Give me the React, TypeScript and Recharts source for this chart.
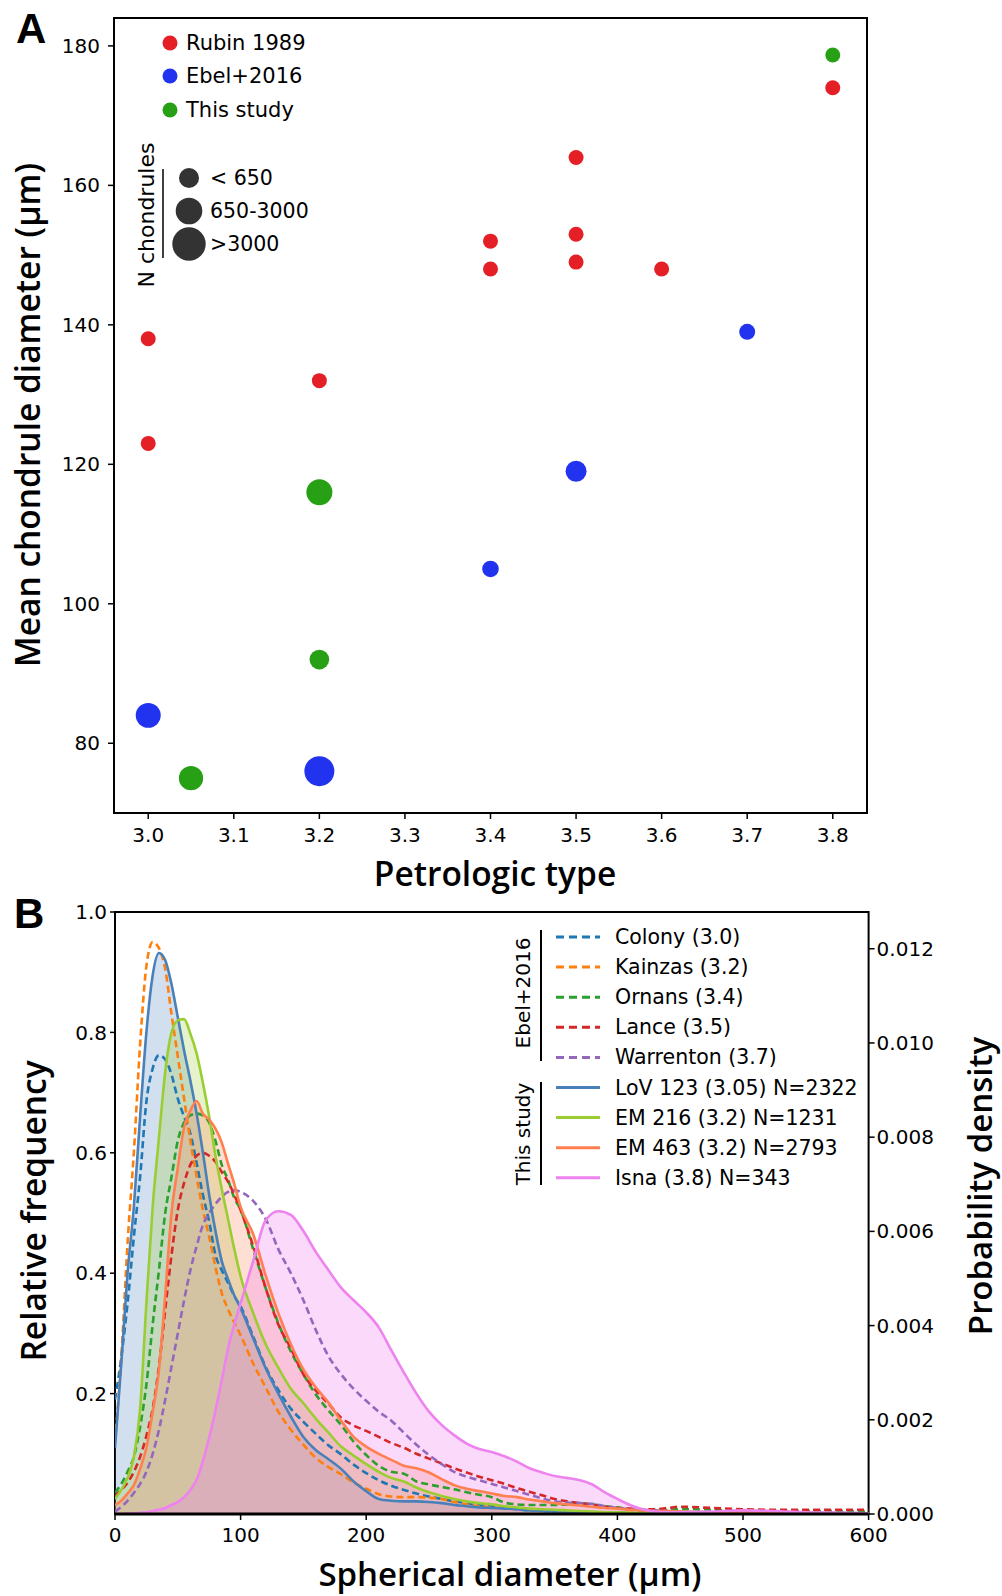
import React from 'react'
import {
  ScatterChart, Scatter, XAxis, YAxis, ZAxis, ReferenceArea,
  ComposedChart, Area, Line,
} from 'recharts'

// ---- Panel A: mean chondrule diameter vs petrologic type ----
const rubinType = [3.0, 3.0, 3.2, 3.4, 3.4, 3.5, 3.5, 3.5, 3.6, 3.8]
const rubinDiam = [138, 123, 132, 152, 148, 164, 153, 149, 148, 174]
const rubinN = [350, 350, 350, 350, 350, 350, 350, 350, 350, 350]

const ebelType = [3.0, 3.2, 3.4, 3.5, 3.7]
const ebelDiam = [84, 76, 105, 119, 139]
const ebelN = [2510, 4000, 620, 1520, 520]

const studyType = [3.05, 3.2, 3.2, 3.8]
const studyDiam = [75, 116, 92, 178.7]
const studyN = [2322, 2793, 1231, 343]

const typeTicks = [3.0, 3.1, 3.2, 3.3, 3.4, 3.5, 3.6, 3.7, 3.8]
const diamTicks = [80, 100, 120, 140, 160, 180]

// ---- Panel B: size distributions ----
const diam = [
  0, 5, 10, 15, 20, 25, 30, 35, 40, 45, 50, 55, 60, 65, 70, 75, 80, 85, 90, 95, 100,
  110, 120, 130, 140, 150, 160, 170, 180, 190, 200, 210, 220, 230, 240, 250, 260, 270, 280, 290, 300,
  310, 320, 330, 340, 350, 360, 370, 380, 390, 400, 410, 420, 430, 440, 450,
  475, 500, 525, 550, 575, 600,
]
const colony = [
  0.19, 0.26, 0.35, 0.46, 0.56, 0.685, 0.74, 0.762, 0.755, 0.73, 0.69, 0.66, 0.632, 0.583, 0.53, 0.485, 0.43, 0.405, 0.384, 0.362, 0.345,
  0.295, 0.244, 0.206, 0.175, 0.153, 0.133, 0.114, 0.099, 0.082, 0.068, 0.056, 0.047, 0.04, 0.034, 0.029, 0.025, 0.021, 0.018, 0.015, 0.013,
  0.01, 0.008, 0.006, 0.005, 0.004, 0.003, 0.003, 0.002, 0.002, 0.002, 0.001, 0.001, 0.001, 0.001, 0.001,
  0.001, 0.001, 0, 0, 0, 0,
]
const kainzas = [
  0.12, 0.26, 0.45, 0.6, 0.78, 0.91, 0.95, 0.94, 0.905, 0.83, 0.76, 0.69, 0.62, 0.56, 0.505, 0.46, 0.41, 0.367, 0.34, 0.318, 0.297,
  0.25, 0.21, 0.17, 0.14, 0.115, 0.093, 0.078, 0.066, 0.052, 0.042, 0.033, 0.029, 0.028, 0.028, 0.027, 0.025, 0.02, 0.016, 0.013, 0.011,
  0.01, 0.009, 0.008, 0.007, 0.006, 0.005, 0.004, 0.003, 0.003, 0.002, 0.002, 0.002, 0.002, 0.001, 0.001,
  0.001, 0.001, 0.001, 0, 0, 0,
]
const ornans = [
  0.035, 0.05, 0.07, 0.095, 0.145, 0.215, 0.315, 0.405, 0.5, 0.56, 0.62, 0.65, 0.662, 0.665, 0.662, 0.65, 0.62, 0.58, 0.555, 0.525, 0.505,
  0.44, 0.375, 0.317, 0.27, 0.232, 0.198, 0.172, 0.148, 0.12, 0.098, 0.08, 0.07, 0.067, 0.054, 0.049, 0.045, 0.041, 0.036, 0.032, 0.028,
  0.019, 0.016, 0.015, 0.015, 0.015, 0.016, 0.018, 0.016, 0.013, 0.011, 0.008, 0.006, 0.006, 0.007, 0.008,
  0.007, 0.005, 0.005, 0.005, 0.005, 0.004,
]
const lance = [
  0.03, 0.04, 0.052, 0.07, 0.095, 0.13, 0.175, 0.245, 0.34, 0.43, 0.505, 0.55, 0.58, 0.595, 0.6, 0.595, 0.585, 0.568, 0.552, 0.53, 0.505,
  0.445, 0.375, 0.315, 0.275, 0.232, 0.205, 0.183, 0.16, 0.147, 0.138, 0.128, 0.118, 0.11, 0.1, 0.092, 0.084, 0.076, 0.069, 0.062, 0.056,
  0.05, 0.043, 0.037, 0.031, 0.025, 0.021, 0.018, 0.015, 0.012, 0.01, 0.009, 0.008, 0.008, 0.01, 0.012,
  0.01, 0.008, 0.007, 0.007, 0.007, 0.007,
]
const warrenton = [
  0.004, 0.012, 0.022, 0.035, 0.05, 0.07, 0.1, 0.14, 0.19, 0.245, 0.3, 0.355, 0.405, 0.445, 0.48, 0.5, 0.515, 0.527, 0.535, 0.538, 0.535,
  0.52, 0.49, 0.44, 0.4, 0.355, 0.305, 0.262, 0.232, 0.208, 0.188, 0.17, 0.155, 0.135, 0.115, 0.098, 0.083, 0.07, 0.062, 0.056, 0.05,
  0.044, 0.038, 0.032, 0.026, 0.021, 0.019, 0.018, 0.017, 0.013, 0.01, 0.008, 0.007, 0.006, 0.005, 0.004,
  0.003, 0.003, 0.002, 0.002, 0.002, 0.001,
]
const lov123 = [
  0.11, 0.25, 0.4, 0.51, 0.66, 0.8, 0.895, 0.932, 0.92, 0.88, 0.825, 0.77, 0.72, 0.665, 0.6, 0.53, 0.47, 0.42, 0.39, 0.363, 0.342,
  0.292, 0.242, 0.2, 0.162, 0.128, 0.106, 0.091, 0.075, 0.054, 0.038, 0.025, 0.022, 0.021, 0.021, 0.02, 0.018, 0.015, 0.013, 0.011, 0.01,
  0.009, 0.008, 0.006, 0.005, 0.004, 0.003, 0.003, 0.002, 0.002, 0.002, 0.001, 0.001, 0.001, 0.001, 0.001,
  0.001, 0.001, 0, 0, 0, 0,
]
const em216 = [
  0.025, 0.04, 0.06, 0.095, 0.175, 0.35, 0.51, 0.625, 0.735, 0.8, 0.82, 0.822, 0.798, 0.765, 0.716, 0.66, 0.595, 0.54, 0.49, 0.44, 0.395,
  0.334, 0.282, 0.243, 0.208, 0.184, 0.158, 0.135, 0.112, 0.097, 0.083, 0.07, 0.06, 0.054, 0.044, 0.036, 0.03, 0.025, 0.021, 0.018, 0.016,
  0.013, 0.011, 0.009, 0.008, 0.007, 0.006, 0.005, 0.004, 0.003, 0.003, 0.002, 0.002, 0.001, 0.001, 0.001,
  0.001, 0.001, 0, 0, 0, 0,
]
const em463 = [
  0.015, 0.022, 0.034, 0.048, 0.075, 0.11, 0.17, 0.24, 0.365, 0.5, 0.575, 0.642, 0.67, 0.686, 0.665, 0.655, 0.64, 0.617, 0.582, 0.548, 0.51,
  0.465, 0.396, 0.334, 0.282, 0.24, 0.21, 0.185, 0.155, 0.128, 0.112, 0.1, 0.09, 0.08, 0.076, 0.069, 0.058, 0.048, 0.042, 0.038, 0.034,
  0.03, 0.028, 0.024, 0.021, 0.018, 0.016, 0.014, 0.012, 0.01, 0.009, 0.007, 0.006, 0.005, 0.005, 0.004,
  0.003, 0.003, 0.002, 0.002, 0.001, 0.001,
]
const isna = [
  0, 0, 0.001, 0.001, 0.002, 0.003, 0.005, 0.007, 0.01, 0.015, 0.02, 0.028, 0.04, 0.057, 0.088, 0.127, 0.172, 0.222, 0.275, 0.315, 0.35,
  0.42, 0.488, 0.503, 0.497, 0.47, 0.435, 0.405, 0.376, 0.355, 0.335, 0.31, 0.272, 0.235, 0.2, 0.17, 0.148, 0.131, 0.117, 0.108, 0.103,
  0.096, 0.087, 0.076, 0.069, 0.063, 0.06, 0.056, 0.049, 0.036, 0.025, 0.015, 0.008, 0.004, 0.003, 0.003,
  0.004, 0.006, 0.005, 0.003, 0.002, 0.001,
]

const diamAxisTicks = [0, 100, 200, 300, 400, 500, 600]
const freqTicks = [0.2, 0.4, 0.6, 0.8, 1.0]
const densityTicks = [0, 0.002, 0.004, 0.006, 0.008, 0.01, 0.012]

const ebelSeries = [
  { key: 'colony', name: 'Colony (3.0)', color: '#1f77b4' },
  { key: 'kainzas', name: 'Kainzas (3.2)', color: '#ff7f0e' },
  { key: 'ornans', name: 'Ornans (3.4)', color: '#2ca02c' },
  { key: 'lance', name: 'Lance (3.5)', color: '#d62728' },
  { key: 'warrenton', name: 'Warrenton (3.7)', color: '#9467bd' },
]
const studySeries = [
  { key: 'lov123', name: 'LoV 123 (3.05) N=2322', color: '#4a80ba' },
  { key: 'em216', name: 'EM 216 (3.2) N=1231', color: '#9acd32' },
  { key: 'em463', name: 'EM 463 (3.2) N=2793', color: '#ff7f50' },
  { key: 'isna', name: 'Isna (3.8) N=343', color: '#ee82ee' },
]

const RED = '#e41f26'
const BLUE = '#2233f0'
const GREEN = '#28a016'
const FONT = "'DejaVu Sans', sans-serif"
const TITLE_FONT = "'Open Sans', 'DejaVu Sans', sans-serif"
const TITLE_SIZE = 33.5

const rubinPts = rubinType.map((t, i) => ({ type: t, diam: rubinDiam[i], n: rubinN[i] }))
const ebelPts = ebelType.map((t, i) => ({ type: t, diam: ebelDiam[i], n: ebelN[i] }))
const studyPts = studyType.map((t, i) => ({ type: t, diam: studyDiam[i], n: studyN[i] }))

const rows = diam.map((d, i) => ({
  d,
  colony: colony[i],
  kainzas: kainzas[i],
  ornans: ornans[i],
  lance: lance[i],
  warrenton: warrenton[i],
  lov123: lov123[i],
  em216: em216[i],
  em463: em463[i],
  isna: isna[i],
}))

const tickStyle = { fontSize: 20, fill: '#000', fontFamily: FONT }
const tickLine = { stroke: '#000', strokeWidth: 1.5 }

function Overlay() {
  const legendRowsB = [...ebelSeries, ...studySeries]
  return (
    <svg width={1002} height={1596} style={{ position: 'absolute', left: 0, top: 0, pointerEvents: 'none' }}>
      {/* panel letters */}
      <text x={16} y={43} fontSize={42} fontWeight="bold" fontFamily="'Liberation Sans', Arial, sans-serif">A</text>
      <text x={14} y={928} fontSize={42} fontWeight="bold" fontFamily="'Liberation Sans', Arial, sans-serif">B</text>

      {/* panel A legend */}
      {[
        { label: 'Rubin 1989', color: RED, y: 43 },
        { label: 'Ebel+2016', color: BLUE, y: 76 },
        { label: 'This study', color: GREEN, y: 110 },
      ].map((r) => (
        <g key={r.label}>
          <circle cx={170} cy={r.y} r={7.5} fill={r.color} />
          <text x={186} y={r.y} dominantBaseline="central" fontSize={21} fontFamily={FONT}>{r.label}</text>
        </g>
      ))}
      <text x={146} y={215} transform="rotate(-90 146 215)" textAnchor="middle" dominantBaseline="central" fontSize={22} fontFamily={FONT}>N chondrules</text>
      <line x1={163} x2={163} y1={169} y2={258} stroke="#000" strokeWidth={1.5} />
      {[
        { label: '< 650', r: 10, y: 178 },
        { label: '650-3000', r: 13.3, y: 211 },
        { label: '>3000', r: 16.7, y: 244 },
      ].map((s) => (
        <g key={s.label}>
          <circle cx={189} cy={s.y} r={s.r} fill="#333" />
          <text x={210} y={s.y} dominantBaseline="central" fontSize={20.5} fontFamily={FONT}>{s.label}</text>
        </g>
      ))}

      {/* panel A titles */}
      <text x={27} y={415} transform="rotate(-90 27 415)" textAnchor="middle" dominantBaseline="central" fontSize={TITLE_SIZE} fontWeight={600} fontFamily={TITLE_FONT}>Mean chondrule diameter (μm)</text>
      <text x={495} y={873} textAnchor="middle" dominantBaseline="central" fontSize={TITLE_SIZE} fontWeight={600} fontFamily={TITLE_FONT}>Petrologic type</text>

      {/* panel B legend */}
      {legendRowsB.map((s, i) => {
        const y = 937 + i * 30.1
        const dashed = i < ebelSeries.length
        return (
          <g key={s.key}>
            <line x1={556} x2={600} y1={y} y2={y} stroke={s.color} strokeWidth={3} strokeDasharray={dashed ? '8 5' : undefined} />
            <text x={615} y={y} dominantBaseline="central" fontSize={20.5} fontFamily={FONT}>{s.name}</text>
          </g>
        )
      })}
      <text x={523} y={993} transform="rotate(-90 523 993)" textAnchor="middle" dominantBaseline="central" fontSize={20} fontFamily={FONT}>Ebel+2016</text>
      <line x1={541} x2={541} y1={930} y2={1061} stroke="#000" strokeWidth={2} />
      <text x={523} y={1134} transform="rotate(-90 523 1134)" textAnchor="middle" dominantBaseline="central" fontSize={20} fontFamily={FONT}>This study</text>
      <line x1={541} x2={541} y1={1082} y2={1185} stroke="#000" strokeWidth={2} />

      {/* panel B titles */}
      <text x={33} y={1211} transform="rotate(-90 33 1211)" textAnchor="middle" dominantBaseline="central" fontSize={TITLE_SIZE} fontWeight={600} fontFamily={TITLE_FONT}>Relative frequency</text>
      <text x={979} y={1186} transform="rotate(-90 979 1186)" textAnchor="middle" dominantBaseline="central" fontSize={33} fontWeight={600} fontFamily={TITLE_FONT}>Probability density</text>
      <text x={510} y={1573} textAnchor="middle" dominantBaseline="central" fontSize={33} fontWeight={600} fontFamily={TITLE_FONT}>Spherical diameter (μm)</text>
    </svg>
  )
}

export default function App() {
  return (
    <div style={{ position: 'absolute', left: 0, top: 0, width: 1002, height: 1596, background: '#fff' }}>
      <div style={{ position: 'absolute', left: 0, top: 0 }}>
        <ScatterChart width={1002} height={880} margin={{ top: 18, right: 135, bottom: 0, left: 0 }}>
          <XAxis
            type="number"
            dataKey="type"
            domain={[2.96, 3.84]}
            ticks={typeTicks}
            tickFormatter={(v: number) => v.toFixed(1)}
            allowDataOverflow
            height={67}
            axisLine={false}
            tickLine={tickLine}
            tickSize={6}
            tickMargin={9}
            tick={tickStyle}
          />
          <YAxis
            type="number"
            dataKey="diam"
            domain={[70, 184]}
            ticks={diamTicks}
            allowDataOverflow
            width={114}
            axisLine={false}
            tickLine={tickLine}
            tickSize={6}
            tickMargin={8}
            tick={tickStyle}
          />
          <ZAxis type="number" dataKey="n" domain={[0, 5000]} range={[126, 850]} />
          <ReferenceArea x1={2.96} x2={3.84} y1={70} y2={184} fill="none" stroke="#000" strokeWidth={2} />
          <Scatter data={rubinPts} fill={RED} isAnimationActive={false} />
          <Scatter data={ebelPts} fill={BLUE} isAnimationActive={false} />
          <Scatter data={studyPts} fill={GREEN} isAnimationActive={false} />
        </ScatterChart>
      </div>

      <div style={{ position: 'absolute', left: 0, top: 880 }}>
        <ComposedChart width={1002} height={716} data={rows} margin={{ top: 32, right: 0, bottom: 0, left: 0 }}>
          <XAxis
            type="number"
            dataKey="d"
            domain={[0, 600]}
            ticks={diamAxisTicks}
            allowDataOverflow
            height={82}
            axisLine={{ stroke: '#000', strokeWidth: 3 }}
            tickLine={tickLine}
            tickSize={6}
            tickMargin={8}
            tick={tickStyle}
          />
          <YAxis
            yAxisId="freq"
            type="number"
            domain={[0, 1]}
            ticks={freqTicks}
            tickFormatter={(v: number) => v.toFixed(1)}
            allowDataOverflow
            width={115}
            axisLine={false}
            tickLine={tickLine}
            tickSize={5}
            tickMargin={3}
            tick={tickStyle}
          />
          <YAxis
            yAxisId="density"
            orientation="right"
            type="number"
            domain={[0, 0.01278]}
            ticks={densityTicks}
            tickFormatter={(v: number) => v.toFixed(3)}
            allowDataOverflow
            width={133.4}
            axisLine={false}
            tickLine={tickLine}
            tickSize={6}
            tickMargin={2}
            tick={{ ...tickStyle, textAnchor: 'start' }}
          />
          <ReferenceArea yAxisId="freq" x1={0} x2={600} y1={0} y2={1} fill="none" stroke="#000" strokeWidth={2} />
          {studySeries.map((s) => (
            <Area
              key={`fill-${s.key}`}
              yAxisId="freq"
              type="monotone"
              dataKey={s.key}
              stroke="none"
              fill={s.color}
              fillOpacity={s.key === 'isna' ? 0.3 : 0.25}
              isAnimationActive={false}
            />
          ))}
          {ebelSeries.map((s) => (
            <Line
              key={s.key}
              yAxisId="freq"
              type="monotone"
              dataKey={s.key}
              stroke={s.color}
              strokeWidth={2.6}
              strokeDasharray="7 4"
              dot={false}
              isAnimationActive={false}
            />
          ))}
          {studySeries.map((s) => (
            <Line
              key={s.key}
              yAxisId="freq"
              type="monotone"
              dataKey={s.key}
              stroke={s.color}
              strokeWidth={2.6}
              dot={false}
              isAnimationActive={false}
            />
          ))}
        </ComposedChart>
      </div>

      <Overlay />
    </div>
  )
}
